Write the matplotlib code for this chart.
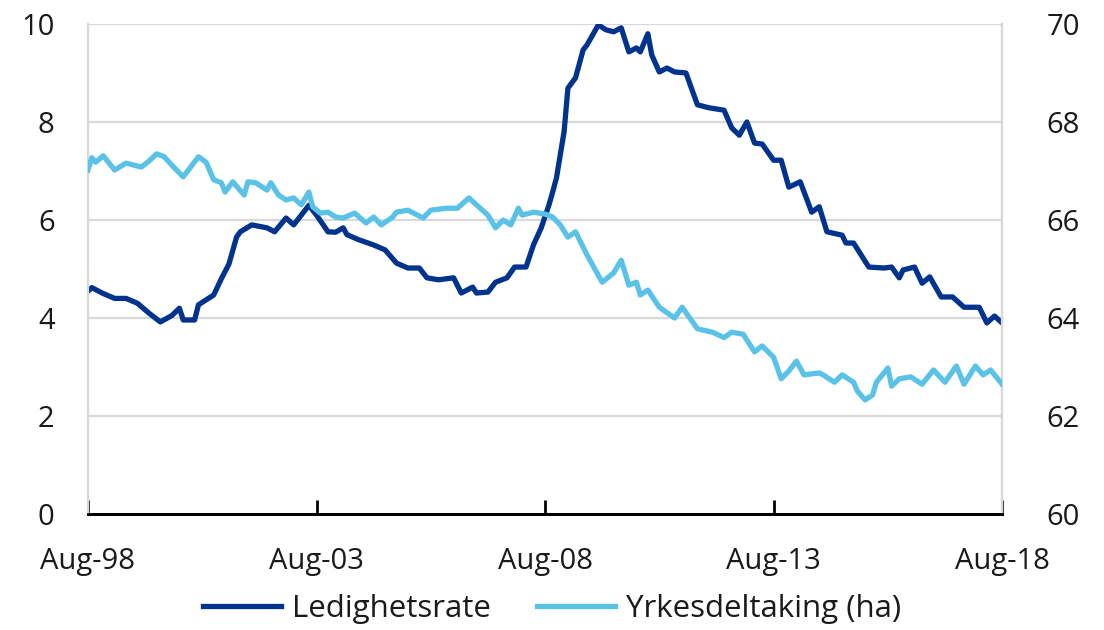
import matplotlib
matplotlib.use('Agg')
import matplotlib.pyplot as plt

plt.rcParams['font.family'] = ['Open Sans', 'DejaVu Sans']

# months since Aug-98
led_month = [0, 1, 4, 7, 10, 13, 16, 19, 22, 24, 25, 28, 29, 33, 35, 37, 39, 40, 43, 47,
             49, 52, 54, 57, 58, 60, 63, 65, 67, 68, 71, 75, 78, 81, 84, 87, 89, 92, 96, 98,
             101, 102, 105, 107, 110, 112, 115, 117, 119, 121, 122, 123, 125, 126, 128, 130,
             131, 134, 136, 138, 140, 142, 144, 145, 147, 148, 150, 152, 154, 157, 160, 163,
             167, 169, 171, 173, 175, 177, 180, 182, 184, 187, 190, 192, 194, 198, 199, 201,
             205, 209, 211, 213, 214, 217, 219, 221, 224, 227, 230, 234, 236, 238, 240]
led_rate = [4.55, 4.62, 4.5, 4.4, 4.4, 4.3, 4.1, 3.92, 4.05, 4.2, 3.96, 3.96, 4.27, 4.47, 4.8,
            5.1, 5.65, 5.76, 5.9, 5.84, 5.76, 6.04, 5.9, 6.2, 6.3, 6.1, 5.76, 5.75, 5.84, 5.7,
            5.6, 5.49, 5.39, 5.12, 5.02, 5.02, 4.82, 4.78, 4.82, 4.51, 4.63, 4.51, 4.53, 4.73,
            4.82, 5.04, 5.04, 5.5, 5.84, 6.3, 6.57, 6.86, 7.8, 8.69, 8.9, 9.47, 9.57, 9.98,
            9.88, 9.84, 9.92, 9.43, 9.51, 9.43, 9.8, 9.37, 9.02, 9.1, 9.02, 9.0, 8.35, 8.29,
            8.24, 7.88, 7.73, 8.0, 7.57, 7.55, 7.22, 7.22, 6.67, 6.78, 6.16, 6.27, 5.76, 5.69,
            5.53, 5.53, 5.04, 5.02, 5.04, 4.82, 4.98, 5.04, 4.71, 4.84, 4.43, 4.43, 4.22, 4.22,
            3.9, 4.04, 3.9]

yrk_month = [0, 1, 2, 4, 7, 10, 14, 16, 18, 20, 22, 25, 29, 31, 33, 35, 36, 38, 41, 42, 44,
             47, 48, 50, 52, 54, 56, 58, 59, 61, 63, 65, 67, 70, 73, 75, 77, 80, 81, 84, 88,
             90, 94, 97, 100, 102, 105, 107, 109, 111, 113, 114, 117, 120, 122, 124, 126, 128,
             131, 135, 138, 140, 142, 144, 145, 147, 150, 154, 156, 160, 164, 167, 169, 172,
             175, 177, 180, 182, 184, 186, 188, 192, 193, 196, 198, 201, 202, 204, 206, 207,
             210, 211, 213, 216, 219, 222, 225, 228, 230, 233, 235, 237, 240]
yrk_rate = [67.02, 67.27, 67.18, 67.31, 67.02, 67.16, 67.08, 67.2, 67.35, 67.29, 67.12, 66.88,
            67.29, 67.18, 66.82, 66.76, 66.57, 66.78, 66.51, 66.78, 66.76, 66.61, 66.76, 66.51,
            66.41, 66.45, 66.31, 66.57, 66.27, 66.14, 66.16, 66.06, 66.04, 66.14, 65.94, 66.06,
            65.9, 66.06, 66.16, 66.2, 66.04, 66.2, 66.24, 66.24, 66.45, 66.31, 66.1, 65.84,
            66.0, 65.9, 66.24, 66.1, 66.16, 66.12, 66.06, 65.9, 65.65, 65.76, 65.29, 64.73,
            64.92, 65.18, 64.67, 64.73, 64.47, 64.57, 64.22, 64.0, 64.22, 63.78, 63.71, 63.6,
            63.71, 63.67, 63.31, 63.43, 63.2, 62.76, 62.92, 63.12, 62.84, 62.88, 62.84, 62.69,
            62.84, 62.69, 62.51, 62.33, 62.43, 62.69, 62.98, 62.61, 62.76, 62.8, 62.65, 62.94,
            62.69, 63.02, 62.65, 63.02, 62.84, 62.94, 62.65]

x_ticks = [0, 60, 120, 180, 240]
x_labels = ['Aug-98', 'Aug-03', 'Aug-08', 'Aug-13', 'Aug-18']

dark = '#00338D'
light = '#5BC2E7'
grid_col = '#D9D9D9'
fs = 21

fig = plt.figure(figsize=(11.04, 6.3), dpi=100)
ax = fig.add_axes([0.0797, 0.184, 0.828, 0.778])
ax2 = ax.twinx()

l1, = ax.plot(led_month, led_rate, color=dark, lw=3.8, label='Ledighetsrate', zorder=3)
l2, = ax2.plot(yrk_month, yrk_rate, color=light, lw=3.8, label='Yrkesdeltaking (ha)', zorder=3)

ax.set_xlim(0, 240)
ax.set_ylim(0, 10)
ax2.set_ylim(60, 70)
ax.set_yticks(range(0, 11, 2))
ax2.set_yticks(range(60, 71, 2))
ax.set_xticks(x_ticks)
ax.set_xticklabels(x_labels)

ax.grid(axis='y', color=grid_col, lw=1.6)
ax.set_axisbelow(True)

for a in (ax, ax2):
    a.spines['top'].set_visible(False)
    a.spines['left'].set_color(grid_col)
    a.spines['right'].set_color(grid_col)
    a.spines['left'].set_linewidth(1.6)
    a.spines['right'].set_linewidth(1.6)
    a.spines['bottom'].set_color('black')
    a.spines['bottom'].set_linewidth(2)
    a.spines['bottom'].set_zorder(5)

ax.tick_params(axis='y', length=0, labelsize=fs, pad=24, labelcolor='#1a1a1a')
ax2.tick_params(axis='y', length=0, labelsize=fs, pad=32, labelcolor='#1a1a1a')
ax.tick_params(axis='x', direction='in', length=10, width=2, labelsize=fs, pad=24,
               labelcolor='#1a1a1a')

fig.legend(handles=[l1, l2], loc='lower center', bbox_to_anchor=(0.5, -0.035), ncol=2,
           frameon=False, fontsize=22.5, handlelength=2.5, handletextpad=0.35,
           columnspacing=1.5, labelcolor='#1a1a1a')

fig.savefig('out.png', dpi=100)
